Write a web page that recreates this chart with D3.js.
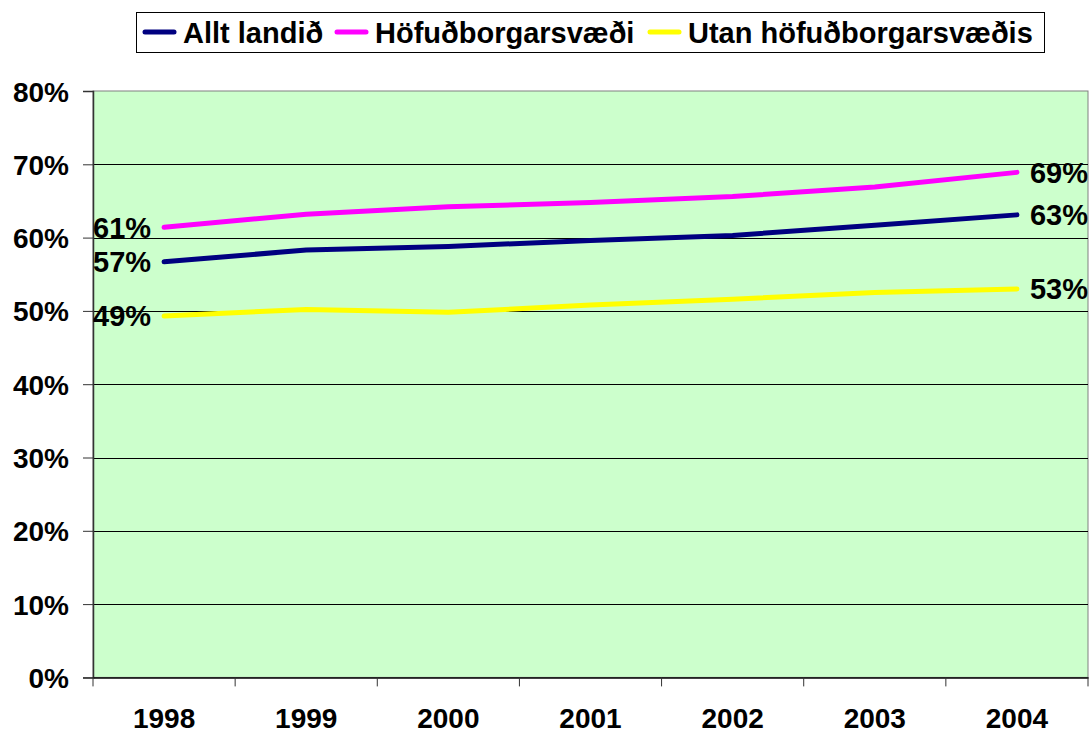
<!DOCTYPE html>
<html>
<head>
<meta charset="utf-8">
<script src="https://cdn.jsdelivr.net/npm/d3@7"></script>
<style>
  html, body { margin: 0; padding: 0; background: #ffffff; }
  svg { display: block; }
  text { font-family: "Liberation Sans", Arial, sans-serif; font-weight: bold; fill: #000; }
</style>
</head>
<body>
<svg id="chart" width="1089" height="734"></svg>
<script>
const years = ["1998", "1999", "2000", "2001", "2002", "2003", "2004"];
const alltLandid = [56.7, 58.3, 58.8, 59.6, 60.3, 61.7, 63.1];
const hofudborgarsvaedi = [61.4, 63.2, 64.2, 64.8, 65.6, 66.9, 68.9];
const utanHofudborgarsvaedis = [49.3, 50.2, 49.8, 50.8, 51.6, 52.5, 53.0];
const seriesNames = ["Allt landið", "Höfuðborgarsvæði", "Utan höfuðborgarsvæðis"];
const seriesColors = ["#000080", "#FF00FF", "#FFFF00"];
const yTicks = [0, 10, 20, 30, 40, 50, 60, 70, 80];

const series = [alltLandid, hofudborgarsvaedi, utanHofudborgarsvaedis];

const svg = d3.select("#chart");
const pLeft = 93, pRight = 1088, pTop = 91, pBottom = 677.4;

const x = d3.scaleBand().domain(years).range([pLeft, pRight]).padding(0);
const y = d3.scaleLinear().domain([0, 80]).range([pBottom, pTop]);
const cx = d => x(d) + x.bandwidth() / 2;

// plot background
svg.append("rect")
  .attr("x", pLeft).attr("y", pTop)
  .attr("width", pRight - pLeft).attr("height", pBottom - pTop)
  .attr("fill", "#CCFFCC")
  .attr("stroke", "#808080").attr("stroke-width", 1);

// gridlines
svg.append("g").selectAll("line")
  .data(yTicks.filter(t => t > 0 && t < 80))
  .join("line")
  .attr("x1", pLeft).attr("x2", pRight)
  .attr("y1", d => Math.round(y(d)) + 0.5).attr("y2", d => Math.round(y(d)) + 0.5)
  .attr("stroke", "#000").attr("stroke-width", 1);

// y axis
const yAxis = d3.axisLeft(y).tickValues(yTicks).tickSize(10).tickPadding(14)
  .tickFormat(d => d + "%");
const yg = svg.append("g").attr("transform", `translate(${pLeft},0)`).call(yAxis);
yg.select(".domain").attr("stroke", "#333").attr("stroke-width", 1.5);
yg.selectAll(".tick line").attr("stroke", "#333");
yg.selectAll(".tick text").attr("font-size", 28).attr("font-family", "Liberation Sans, Arial, sans-serif")
  .attr("font-weight", "bold").attr("fill", "#000").attr("dy", "0.36em");

// x axis
const xAxis = d3.axisBottom(x).tickSize(0).tickPadding(0);
const xg = svg.append("g").attr("transform", `translate(0,${pBottom})`).call(xAxis);
xg.select(".domain").attr("stroke", "#000").attr("stroke-width", 1.5);
xg.selectAll(".tick text").attr("font-size", 28).attr("font-family", "Liberation Sans, Arial, sans-serif")
  .attr("font-weight", "bold").attr("fill", "#000").attr("y", 51).attr("dy", 0);
// category boundary tick marks
svg.append("g").selectAll("line")
  .data(years.map(d => x(d)).concat([pRight]))
  .join("line")
  .attr("x1", d => d).attr("x2", d => d)
  .attr("y1", pBottom).attr("y2", pBottom + 9)
  .attr("stroke", "#333").attr("stroke-width", 1);

// lines
const line = d3.line().x((d, i) => cx(years[i])).y(d => y(d));
series.forEach((vals, si) => {
  svg.append("path")
    .datum(vals)
    .attr("d", line)
    .attr("fill", "none")
    .attr("stroke", seriesColors[si])
    .attr("stroke-width", 5)
    .attr("stroke-linecap", "round")
    .attr("stroke-linejoin", "round");
});

// data labels at first and last points
series.forEach((vals, si) => {
  const n = vals.length - 1;
  svg.append("text")
    .attr("x", cx(years[0]) - 13).attr("y", y(vals[0]))
    .attr("dy", "0.36em").attr("text-anchor", "end")
    .attr("font-size", 29)
    .text(Math.round(vals[0]) + "%");
  svg.append("text")
    .attr("x", cx(years[n]) + 13).attr("y", y(vals[n]))
    .attr("dy", "0.36em").attr("text-anchor", "start")
    .attr("font-size", 29)
    .text(Math.round(vals[n]) + "%");
});

// legend
const legend = svg.append("g");
legend.append("rect")
  .attr("x", 136.5).attr("y", 12.5).attr("width", 908).attr("height", 40)
  .attr("fill", "#fff").attr("stroke", "#000").attr("stroke-width", 1);
const legendX = [143, 335, 648];
seriesNames.forEach((name, i) => {
  legend.append("line")
    .attr("x1", legendX[i] + 2).attr("x2", legendX[i] + 31)
    .attr("y1", 32).attr("y2", 32)
    .attr("stroke", seriesColors[i]).attr("stroke-width", 5)
    .attr("stroke-linecap", "round");
  legend.append("text")
    .attr("x", legendX[i] + 40).attr("y", 43)
    .attr("font-size", 29)
    .text(name);
});
</script>
</body>
</html>
